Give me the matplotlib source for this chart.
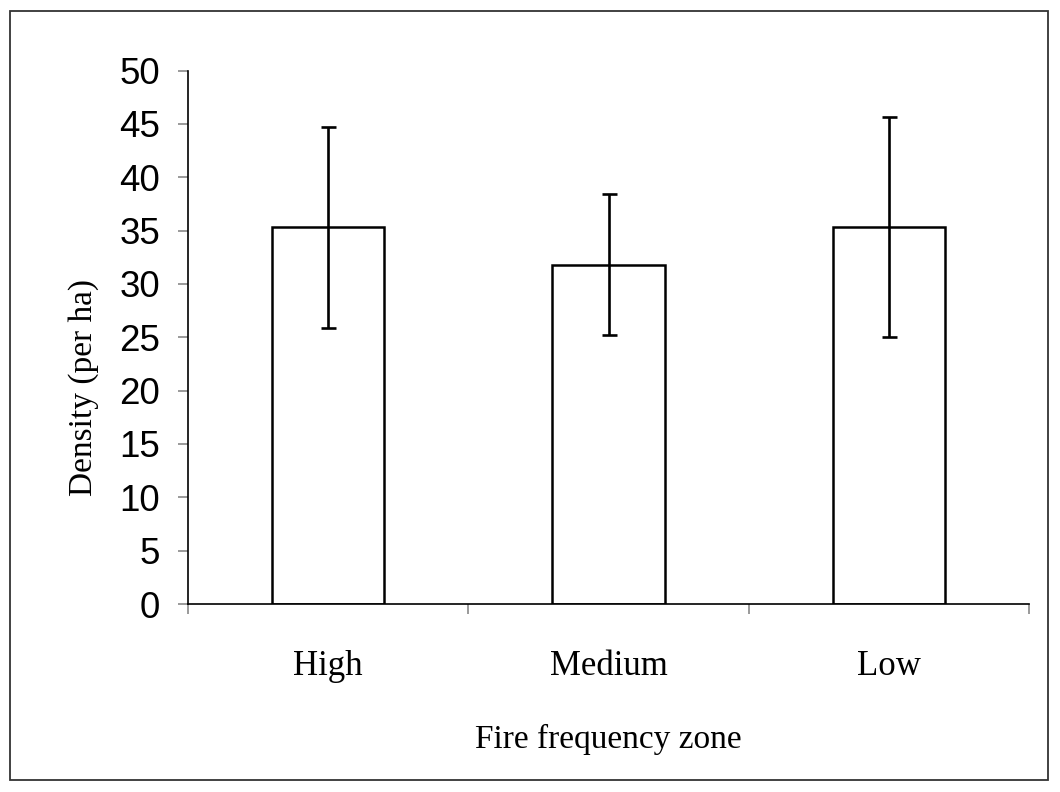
import matplotlib
matplotlib.use("Agg")
import matplotlib.pyplot as plt
from matplotlib import font_manager
from matplotlib.patches import Rectangle
import numpy as np

categories = ["High", "Medium", "Low"]
density = [35.3, 31.8, 35.3]
errors = [9.4, 6.6, 10.3]
y_ticks = [0, 5, 10, 15, 20, 25, 30, 35, 40, 45, 50]
x_label = "Fire frequency zone"
y_label = "Density (per ha)"

names = {f.name for f in font_manager.fontManager.ttflist}
if "Liberation Sans Narrow" in names:
    tick_family, tick_size = "Liberation Sans Narrow", 29
else:
    tick_family, tick_size = "Liberation Sans", 26.5
serif = "Liberation Serif"

W, H = 1060, 792
fig = plt.figure(figsize=(W / 100, H / 100), dpi=100)
fig.patch.set_facecolor("white")

ax_l, ax_r, ax_t, ax_b = 188, 1029, 70.5, 604
ax = fig.add_axes([ax_l / W, 1 - ax_b / H, (ax_r - ax_l) / W, (ax_b - ax_t) / H])

x = np.arange(len(categories))
ax.bar(x, density, width=0.4, color="white", edgecolor="black", linewidth=1.8,
       yerr=errors, capsize=5.4,
       error_kw=dict(elinewidth=1.9, capthick=1.9, ecolor="black"), zorder=2)

ax.set_xlim(-0.5, len(categories) - 0.5)
ax.set_ylim(0, 50)
ax.set_yticks(y_ticks)
ax.set_yticklabels([str(v) for v in y_ticks], fontfamily=tick_family, fontsize=tick_size)
ax.tick_params(axis="y", direction="out", length=7.2, width=1.1, color="#7f7f7f", pad=13)

ax.set_xticks(x)
ax.set_xticklabels(categories, fontfamily=serif, fontsize=25)
ax.tick_params(axis="x", which="major", length=0, pad=33)
ax.set_xticks(np.arange(-0.5, len(categories), 1.0), minor=True)
ax.tick_params(axis="x", which="minor", direction="out", length=7.2, width=1.1, color="#7f7f7f")

for s in ["top", "right"]:
    ax.spines[s].set_visible(False)
for s in ["left", "bottom"]:
    ax.spines[s].set_linewidth(1.2)
    ax.spines[s].set_color("black")

ax.set_xlabel(x_label, fontfamily=serif, fontsize=24)
ax.xaxis.set_label_coords(0.5, (ax_b - 724) / (ax_b - ax_t))

ax.set_ylabel(y_label, fontfamily=serif, fontsize=24)
ax.yaxis.label.set_rotation_mode("default")
ax.yaxis.label.set_va("center")
ax.yaxis.label.set_ha("center")
ax.yaxis.set_label_coords((84 - ax_l) / (ax_r - ax_l), (ax_b - 387) / (ax_b - ax_t))

fig.add_artist(Rectangle((10 / W, 1 - 780 / H), (1048 - 10) / W, (780 - 11) / H,
                         transform=fig.transFigure, fill=False,
                         edgecolor="#333333", linewidth=1.3))

fig.savefig("out.png", dpi=100, facecolor="white")
